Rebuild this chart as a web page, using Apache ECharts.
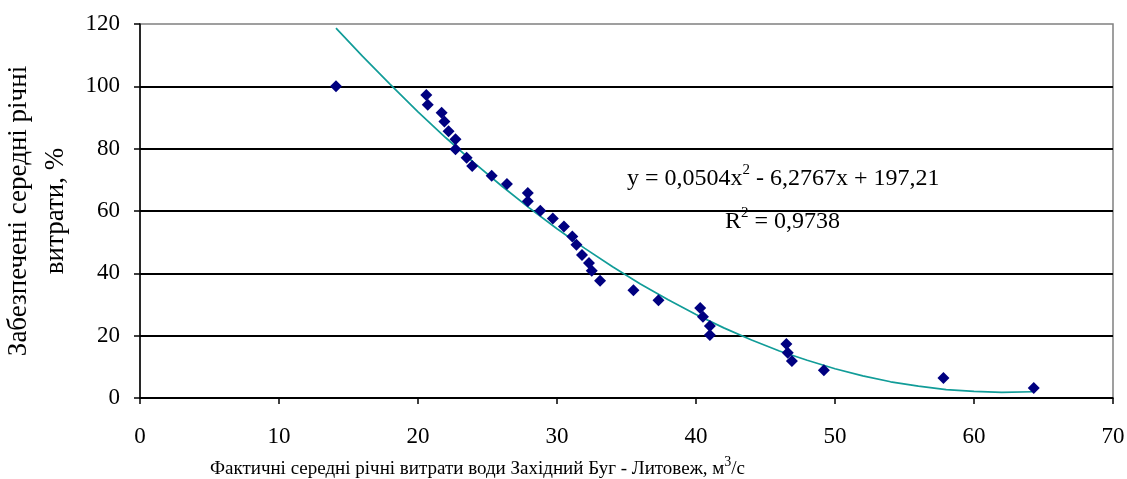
<!DOCTYPE html>
<html>
<head>
<meta charset="utf-8">
<script src="https://cdn.jsdelivr.net/npm/echarts@6/dist/echarts.min.js"></script>
<style>
  html, body { margin: 0; padding: 0; background: #fff; }
  #chart { width: 1127px; height: 479px; }
</style>
</head>
<body>
<div id="chart"></div>
<script>
// фактичні витрати (x) та забезпеченість, % (y)
var flowX = [14.1, 20.6, 20.7, 21.7, 21.9, 22.2, 22.7, 22.7, 23.5, 23.9, 25.3, 26.4, 27.9, 27.9,
  28.8, 29.7, 30.5, 31.1, 31.4, 31.8, 32.3, 32.5, 33.1, 35.5, 37.3, 40.3, 40.5, 41.0, 41.0,
  46.5, 46.6, 46.9, 49.2, 57.8, 64.3]
var supplyY = [100, 97.2, 94.1, 91.5, 88.7, 85.6, 83.0, 79.8, 77.1, 74.4, 71.3, 68.7, 65.8, 63.1,
  60.1, 57.6, 55.0, 51.8, 49.2, 45.9, 43.3, 40.8, 37.6, 34.6, 31.4, 28.9, 26.1, 23.1, 20.2,
  17.3, 14.5, 11.9, 8.9, 6.4, 3.2]

// поліноміальна лінія тренду
var trendX = [14.1, 16, 18, 20, 22, 24, 26, 28, 30, 32, 34, 36, 38, 40, 42, 44, 46, 48, 50,
  52, 54, 56, 58, 60, 62, 64.2]
var trendY = [118.7, 109.7, 100.6, 91.8, 83.5, 75.6, 68.1, 61.0, 54.3, 48.0, 42.1, 36.6, 31.5,
  26.8, 22.5, 18.6, 15.1, 12.1, 9.4, 7.1, 5.2, 3.8, 2.7, 2.1, 1.8, 2.0]

var xTicks = [0, 10, 20, 30, 40, 50, 60, 70]
var yTicks = [0, 20, 40, 60, 80, 100, 120]

var scatterData = flowX.map(function (x, i) { return [x, supplyY[i]] })
var trendData = trendX.map(function (x, i) { return [x, trendY[i]] })

var font = '"Liberation Serif", "DejaVu Serif", serif'

var supRich = function (size, supSize, lh) {
  return {
    a: { fontFamily: font, fontSize: size, lineHeight: lh, fontWeight: 'normal', fill: '#000', color: '#000', verticalAlign: 'bottom' },
    s: { fontFamily: font, fontSize: supSize, lineHeight: supSize, fontWeight: 'normal', fill: '#000', color: '#000', verticalAlign: 'top' }
  }
}

var chart = echarts.init(document.getElementById('chart'), null, { renderer: 'canvas' })
chart.setOption({
  backgroundColor: '#fff',
  animation: false,
  grid: {
    left: 140, right: 14, top: 24, bottom: 81,
    outerBoundsMode: 'none', containLabel: false,
    show: true, borderColor: '#808080', borderWidth: 1.5
  },
  title: {
    left: 205, top: 450,
    text: '{a|Фактичні середні річні витрати води Західний Буг - Литовеж, м}{s|3}{a|/с}',
    textStyle: { fontWeight: 'normal', rich: supRich(19, 14, 24) }
  },
  xAxis: {
    type: 'value',
    min: xTicks[0], max: xTicks[xTicks.length - 1], interval: 10,
    axisLine: { lineStyle: { color: '#000', width: 1.5 } },
    axisTick: { show: true, length: 6, lineStyle: { color: '#000', width: 1.5 } },
    axisLabel: { color: '#000', fontFamily: font, fontSize: 23, margin: 27 },
    splitLine: { show: false }
  },
  yAxis: {
    type: 'value',
    min: yTicks[0], max: yTicks[yTicks.length - 1], interval: 20,
    name: 'Забезпечені середні річні\nвитрати, %',
    nameLocation: 'middle', nameGap: 66, nameRotate: 90,
    nameTextStyle: { color: '#000', fontFamily: font, fontSize: 27, lineHeight: 37 },
    axisLine: { show: true, lineStyle: { color: '#000', width: 1.5 } },
    axisTick: { show: true, length: 6, lineStyle: { color: '#000', width: 1.5 } },
    axisLabel: { color: '#000', fontFamily: font, fontSize: 23, margin: 20 },
    splitLine: { show: true, showMaxLine: false, lineStyle: { color: '#000', width: 2 } }
  },
  graphic: [
    {
      type: 'text', left: 627, top: 163, silent: true,
      style: { text: '{a|y = 0,0504x}{s|2}{a| - 6,2767x + 197,21}', rich: supRich(24, 15, 28) }
    },
    {
      type: 'text', left: 725, top: 206, silent: true,
      style: { text: '{a|R}{s|2}{a| = 0,9738}', rich: supRich(24, 15, 28) }
    }
  ],
  series: [
    {
      type: 'line',
      data: trendData,
      symbol: 'none',
      lineStyle: { color: '#119c98', width: 1.7 },
      z: 2
    },
    {
      type: 'scatter',
      data: scatterData,
      symbol: 'diamond',
      symbolSize: 12,
      itemStyle: { color: '#000080', opacity: 1 },
      z: 3
    }
  ]
})
</script>
</body>
</html>
